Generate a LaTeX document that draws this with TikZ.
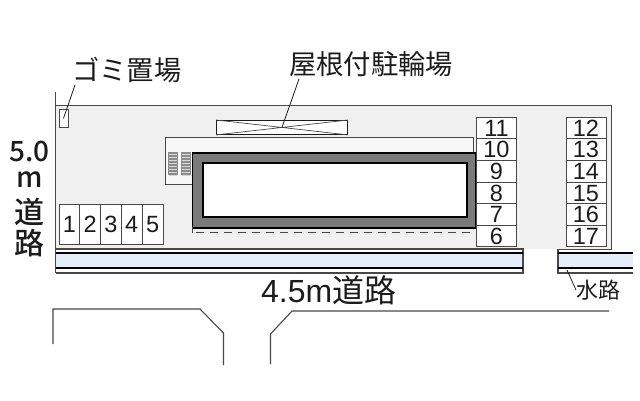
\documentclass[tikz,border=0pt]{standalone}
\usepackage{fontspec}
\setmainfont{Liberation Sans}
\newfontfamily\jp{Noto Sans CJK JP}
\newfontfamily\jpb{Noto Sans CJK JP Medium}
\newcommand{\dg}[1]{\raisebox{-4.3pt}{#1}}
\definecolor{lot}{HTML}{F0F0F0}
\definecolor{canal}{HTML}{E4EEFA}
\definecolor{ink}{HTML}{1C1C1C}
\definecolor{edge}{HTML}{484848}
\definecolor{band}{HTML}{7A7A7A}
\tikzset{
  x=1pt,y=-1pt,
  stall/.style={draw=edge,line width=0.9pt,fill=white,inner sep=0,minimum width=#1,anchor=north west,text=ink,text height=8pt,text depth=0pt},
  hstall/.style={stall=40pt,minimum height=21.6pt,font=\fontsize{23.5}{23.5}\selectfont},
  vstall/.style={stall=20.8pt,minimum height=39.5pt,font=\fontsize{23.5}{23.5}\selectfont},
  label/.style={inner sep=0,text=ink,font=\jp\fontsize{27.3}{27.3}\selectfont},
  leader/.style={draw=ink,line width=0.8pt},
  road/.style={draw=edge,line width=1.1pt},
  blk/.style={draw=black,line width=1.2pt},
  gry/.style={draw=edge,line width=1.2pt}
}
\begin{document}
\begin{tikzpicture}
\useasboundingbox (0,0) rectangle (640,400);
% lot
\fill[lot] (55.5,105.5) rectangle (611,249);
\draw[edge,line width=1pt] (55.5,92) -- (55.5,273);
\draw[edge,line width=1pt] (55.5,105.5) -- (611,105.5) -- (611,249) -- (558,249);
% canal
\fill[canal] (55.5,253) rectangle (523,268);
\fill[canal] (558,253) rectangle (633,268);
\draw[gry] (55.5,249) -- (523,249) -- (523,273) -- (55.5,273);
\draw[gry] (633,273) -- (558,273) -- (558,249);
\draw[blk] (55.5,253) -- (523,253) (55.5,268) -- (523,268);
\draw[blk] (558,253) -- (633,253) (558,268) -- (633,268);
% balcony
\draw[edge,line width=1pt,fill=black!3] (473,137) -- (165,137) -- (165,184) -- (192,184) -- (192,152) -- (473,152) -- cycle;
% stairs
\foreach \sx in {168,181}{
  \fill[black!45] (\sx,152) rectangle (\sx+9.5,175);
  \foreach \sy in {154,157,...,175}{\draw[white!85!black,line width=1pt] (\sx+0.5,\sy) -- (\sx+9,\sy);}
}
% building
\node[draw=black,line width=1.6pt,fill=band,minimum width=283pt,minimum height=75pt,inner sep=0,anchor=north west] (bldg) at (191.5,152) {};
\node[draw=black,line width=2.4pt,fill=white,minimum width=264pt,minimum height=54pt,inner sep=0,anchor=north west] (core) at (201.5,162) {};
\draw[edge,line width=0.8pt] (192,227) -- (192,233);
\draw[edge,line width=1pt,dash pattern=on 8pt off 6pt] (196,232.5) -- (474,232.5);
% bike shelter
\node[draw=ink,line width=0.9pt,fill=white,minimum width=131pt,minimum height=14pt,inner sep=0,anchor=north west] (bike) at (216,120) {};
\draw[edge,line width=0.7pt] (bike.north west) -- (bike.south east) (bike.north east) -- (bike.south west);
\node[label,anchor=west] (bikelbl) at (289,64) {屋根付駐輪場};
\draw[leader] (299,79) -- (bike.center);
% garbage
\node[draw=edge,line width=0.9pt,fill=white,minimum width=9pt,minimum height=18pt,inner sep=0,anchor=north west] (gomi) at (58.5,109) {};
\node[label,anchor=west] (gomilbl) at (72,70) {ゴミ置場};
\draw[leader] (75,85) -- (gomi.center);
% stalls 1-5
\foreach \n [count=\i from 0] in {1,2,3,4,5}{
  \node[vstall] (a\n) at (58.5+\i*20.8,204) {\dg{\n}};
}
% stalls right
\foreach \n [count=\i from 0] in {11,10,9,8,7,6}{
  \node[hstall] (b\n) at (476,116.8+\i*21.6) {\dg{\n}};
}
\foreach \n [count=\i from 0] in {12,13,14,15,16,17}{
  \node[hstall] (c\n) at (565.5,116.8+\i*21.6) {\dg{\n}};
}
% roads
\draw[road] (53,344) -- (53,309) -- (200,309) -- (223.5,333) -- (223.5,365);
\draw[road] (270.5,364) -- (270.5,334) -- (292,311) -- (609,311);
% texts
\node[inner sep=0,text=ink,font=\jpb\fontsize{28}{28}\selectfont] (w1) at (29.5,151) {5.0};
\node[inner sep=0,text=ink,font=\jpb\fontsize{28}{28}\selectfont] (w2) at (29.5,180) {m};
\node[inner sep=0,text=ink,font=\jpb\fontsize{30}{30}\selectfont] (w3) at (29.5,212) {道};
\node[inner sep=0,text=ink,font=\jpb\fontsize{30}{30}\selectfont] (w4) at (29.5,243) {路};
\node[inner sep=0,text=ink,anchor=west,font=\fontsize{32}{32}\selectfont] (road) at (261,290) {4.5m\jp 道路};
\node[inner sep=0,text=ink,anchor=west,font=\jp\fontsize{22}{22}\selectfont] (water) at (576,290) {水路};
\coordinate (wtop) at (567,270);
\draw[leader] (wtop) -- (water.west);
\end{tikzpicture}
\end{document}
